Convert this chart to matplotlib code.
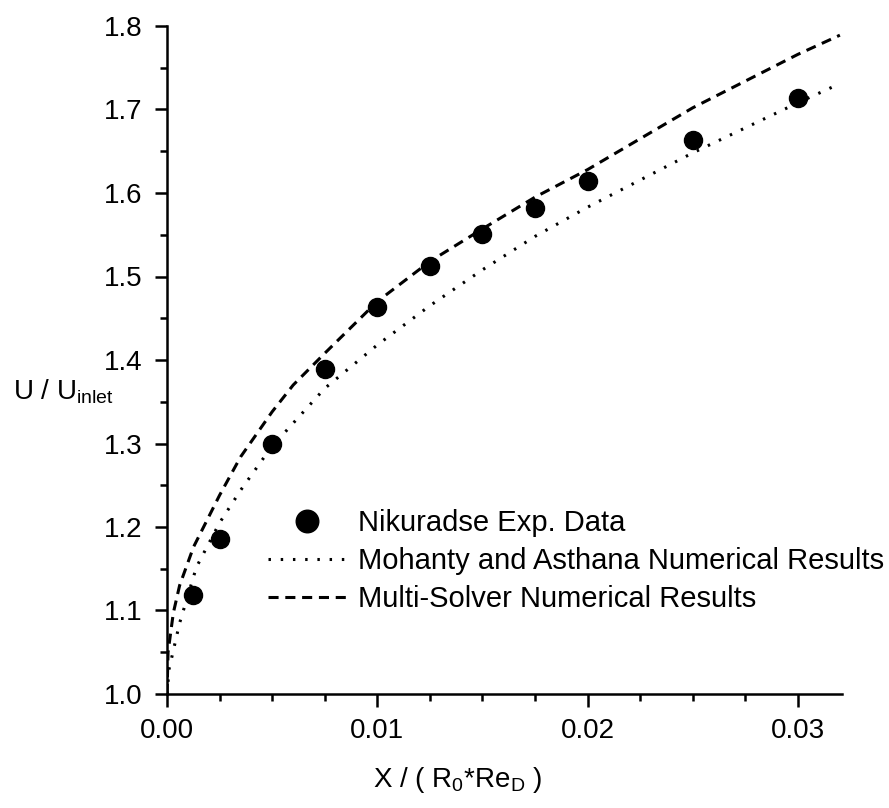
import matplotlib
matplotlib.use("Agg")
import matplotlib.pyplot as plt
from matplotlib.ticker import MultipleLocator, FormatStrFormatter

plt.rcParams['font.family'] = ['Liberation Sans', 'DejaVu Sans']
plt.rcParams['mathtext.fontset'] = 'custom'
plt.rcParams['mathtext.rm'] = 'Liberation Sans'

# Nikuradse experimental points
exp_x = [0.00125, 0.0025, 0.005, 0.0075, 0.01, 0.0125, 0.015, 0.0175, 0.02, 0.025, 0.03]
exp_y = [1.119, 1.186, 1.300, 1.389, 1.464, 1.513, 1.551, 1.582, 1.614, 1.664, 1.714]

# Mohanty and Asthana (dotted)
moh_x = [0.0, 0.0001, 0.0006, 0.0014, 0.0025, 0.0035, 0.005, 0.0057, 0.0075, 0.01,
         0.0125, 0.015, 0.0175, 0.02, 0.025, 0.03, 0.032]
moh_y = [1.0, 1.03, 1.085, 1.152, 1.205, 1.244, 1.297, 1.316, 1.366, 1.418,
         1.465, 1.508, 1.548, 1.583, 1.648, 1.708, 1.731]

# Multi-Solver (dashed)
ms_x = [0.0, 0.00005, 0.0003, 0.0006, 0.00126, 0.0025, 0.0035, 0.005, 0.006, 0.0075,
        0.01, 0.0125, 0.015, 0.0175, 0.02, 0.025, 0.03, 0.032]
ms_y = [1.0, 1.05, 1.097, 1.13, 1.176, 1.238, 1.284, 1.338, 1.37, 1.408,
        1.47, 1.518, 1.557, 1.595, 1.628, 1.702, 1.766, 1.789]

fig = plt.figure(figsize=(8.89, 8.08), dpi=100)
ax = fig.add_axes([167/889, 1 - 694/808, (842 - 167)/889, (694 - 26)/808])

ax.plot(exp_x, exp_y, 'o', color='black', markersize=13, label='Nikuradse Exp. Data')
ax.plot(moh_x, moh_y, color='black', lw=2.2, linestyle=(0, (0.8, 3.2)),
        label='Mohanty and Asthana Numerical Results')
ax.plot(ms_x, ms_y, color='black', lw=2.2, linestyle=(0, (3.3, 2.2)),
        label='Multi-Solver Numerical Results')

ax.set_xlim(0, 0.0321)
ax.set_ylim(1.0, 1.8)
ax.spines['top'].set_visible(False)
ax.spines['right'].set_visible(False)
for s in ['left', 'bottom']:
    ax.spines[s].set_linewidth(1.8)

ax.xaxis.set_major_locator(MultipleLocator(0.01))
ax.xaxis.set_minor_locator(MultipleLocator(0.0025))
ax.xaxis.set_major_formatter(FormatStrFormatter('%.2f'))
ax.yaxis.set_major_locator(MultipleLocator(0.1))
ax.yaxis.set_minor_locator(MultipleLocator(0.05))
ax.yaxis.set_major_formatter(FormatStrFormatter('%.1f'))
ax.tick_params(which='major', direction='out', length=9, width=1.8, labelsize=20)
ax.tick_params(which='minor', direction='out', length=5, width=1.8)
ax.tick_params(axis='x', which='major', pad=8)
ax.tick_params(axis='y', which='major', pad=9)

fig.text(458/889, 1 - 780/808, r'X / ( R$_\mathregular{0}$*Re$_\mathregular{D}$ )',
         ha='center', va='center', fontsize=20)
fig.text(13/889, 1 - 392/808, r'U / U$_\mathregular{inlet}$',
         ha='left', va='center', fontsize=20)

ax.legend(loc='upper left', bbox_to_anchor=(268/889, 1 - 509/808),
          bbox_transform=fig.transFigure, frameon=False, fontsize=21,
          borderpad=0, borderaxespad=0, handlelength=2.7, handletextpad=0.4,
          labelspacing=0.35, markerscale=1.25)

fig.savefig('out.png', dpi=100)
